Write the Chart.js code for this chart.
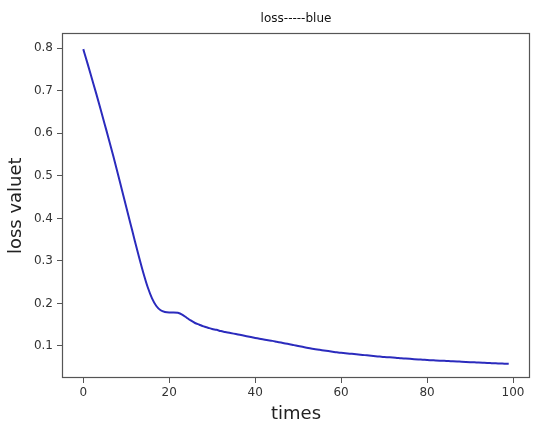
<!DOCTYPE html>
<html>
<head>
<meta charset="utf-8">
<script src="https://cdn.jsdelivr.net/npm/chart.js@4.4.1/dist/chart.umd.min.js"></script>
<style>
  html, body { margin: 0; padding: 0; background: #fff; }
  #wrap { width: 550px; height: 431px; }
</style>
</head>
<body>
<div id="wrap"><canvas id="lossChart" width="550" height="431"></canvas></div>
<script>
// loss per step (steps 0..99)
const lossValues = [
  0.798, 0.764, 0.729, 0.694, 0.658, 0.621, 0.584, 0.546, 0.507, 0.467,
  0.427, 0.387, 0.347, 0.308, 0.271, 0.238, 0.212, 0.194, 0.184, 0.180,
  0.179, 0.179, 0.178, 0.174, 0.167, 0.160, 0.154, 0.150, 0.146, 0.143,
  0.140, 0.138, 0.135, 0.133, 0.131, 0.129, 0.127, 0.125, 0.123, 0.121,
  0.119, 0.117, 0.115, 0.1135, 0.112, 0.110, 0.108, 0.106, 0.104, 0.102,
  0.100, 0.098, 0.096, 0.094, 0.0925, 0.091, 0.0895, 0.088, 0.0865, 0.085,
  0.084, 0.083, 0.082, 0.081, 0.080, 0.079, 0.078, 0.077, 0.076, 0.075,
  0.074, 0.0735, 0.073, 0.072, 0.071, 0.0705, 0.0698, 0.069, 0.0683, 0.0677,
  0.067, 0.0665, 0.066, 0.0655, 0.065, 0.0645, 0.064, 0.0635, 0.063, 0.0625,
  0.062, 0.0615, 0.061, 0.0605, 0.060, 0.0596, 0.0592, 0.0588, 0.0584, 0.058
];
const xTicks = [0, 20, 40, 60, 80, 100];
const yTicks = [0.1, 0.2, 0.3, 0.4, 0.5, 0.6, 0.7, 0.8];

const FONT = "'DejaVu Sans', sans-serif";
const TEXT = '#333';
const EDGE = '#555';

/* ── frame around the plot area (matplotlib style box) ── */
const boxFrame = {
  id: 'boxFrame',
  afterDraw(chart) {
    const a = chart.chartArea, ctx = chart.ctx;
    ctx.save();
    ctx.strokeStyle = EDGE;
    ctx.lineWidth = 1.2;
    ctx.strokeRect(Math.round(a.left) + 0.5, Math.round(a.top) + 0.5,
                   Math.round(a.right - a.left) - 1, Math.round(a.bottom - a.top) - 1);
    ctx.restore();
  }
};

new Chart(document.getElementById('lossChart').getContext('2d'), {
  type: 'line',
  data: {
    datasets: [{
      label: 'loss',
      data: lossValues.map((v, i) => ({ x: i, y: v })),
      borderColor: '#2b2bbd',
      borderWidth: 2,
      pointRadius: 0,
      cubicInterpolationMode: 'monotone',
      fill: false,
    }],
  },
  options: {
    responsive: false,
    animation: false,
    layout: { padding: { left: 0, right: 20, top: 0, bottom: 0 } },
    plugins: {
      legend: { display: false },
      tooltip: { enabled: false },
      title: {
        display: true,
        text: 'loss-----blue',
        fullSize: false,
        color: '#111',
        font: { family: FONT, size: 12, weight: 'normal' },
        padding: { top: 12, bottom: 7 },
      },
    },
    scales: {
      x: {
        type: 'linear',
        min: -4.95, max: 103.95,
        afterBuildTicks: s => { s.ticks = xTicks.map(v => ({ value: v })); },
        afterFit: s => { s.height = 53; },
        ticks: { color: TEXT, font: { family: FONT, size: 12 }, padding: 3, maxRotation: 0 },
        grid: { display: true, drawOnChartArea: false, drawTicks: true, tickLength: 5, color: EDGE },
        border: { display: false },
        title: { display: true, text: 'times', color: '#222', font: { family: FONT, size: 18 }, padding: { top: 6, bottom: 6 } },
      },
      y: {
        type: 'linear',
        min: 0.0247, max: 0.835,
        afterBuildTicks: s => { s.ticks = yTicks.map(v => ({ value: v })); },
        afterFit: s => { s.width = 62; },
        ticks: { color: TEXT, font: { family: FONT, size: 12 }, padding: 4, callback: v => v.toFixed(1) },
        grid: { display: true, drawOnChartArea: false, drawTicks: true, tickLength: 5, color: EDGE },
        border: { display: false },
        title: { display: true, text: 'loss valuet', color: '#222', font: { family: FONT, size: 18 }, padding: { top: 6, bottom: 4 } },
      },
    },
  },
  plugins: [boxFrame],
});
</script>
</body>
</html>
